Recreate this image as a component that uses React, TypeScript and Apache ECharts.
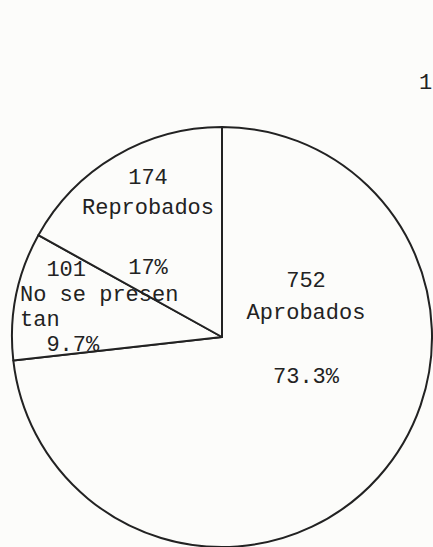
import React, { useEffect, useRef } from "react";
import * as echarts from "echarts";

// ---- data ----
const categories = ["Aprobados", "No se presentan", "Reprobados"];
const counts = [752, 101, 174];
const percentLabels = ["73.3%", "9.7%", "17%"];
// how each category name is typed on the sheet
const typedNames = ["Aprobados", "No se presen\ntan", "Reprobados"];

// ---- layout / style (not data) ----
const FONT = "'Liberation Mono', 'Courier New', monospace";
const INK = "#222222";
const PAPER = "#fcfcfa";
const LABEL_ANCHORS = [
  { x: 306, y: 265, align: "center", lineHeight: 32 },
  { x: 20, y: 258, align: "left", lineHeight: 25 },
  { x: 148, y: 163, align: "center", lineHeight: 30 },
];

function buildLabel(i: number): string {
  if (i === 1) {
    return `  ${counts[i]}\n${typedNames[i]}\n  ${percentLabels[i]}`;
  }
  return `${counts[i]}\n${typedNames[i]}\n\n${percentLabels[i]}`;
}

export default function App() {
  const ref = useRef<HTMLDivElement>(null);

  useEffect(() => {
    if (!ref.current) return;
    const chart = echarts.init(ref.current, undefined, { renderer: "svg" });
    chart.setOption({
      animation: false,
      backgroundColor: PAPER,
      graphic: [
        {
          type: "text",
          x: 419,
          y: 72,
          style: { text: "1", font: `22px ${FONT}`, fill: INK },
        },
      ],
      series: [
        {
          type: "pie",
          center: [222, 337],
          radius: 210,
          startAngle: 90,
          clockwise: true,
          silent: true,
          itemStyle: {
            color: PAPER,
            borderColor: INK,
            borderWidth: 2,
          },
          emphasis: { disabled: true },
          labelLine: { show: false },
          label: {
            show: true,
            position: "inside",
            fontFamily: FONT,
            fontSize: 22,
            color: INK,
          },
          labelLayout: (params: any) => {
            const a = LABEL_ANCHORS[params.dataIndex];
            return { x: a.x, y: a.y, align: a.align, verticalAlign: "top" };
          },
          data: categories.map((name, i) => ({
            name,
            value: counts[i],
            label: {
              formatter: buildLabel(i),
              lineHeight: LABEL_ANCHORS[i].lineHeight,
              align: LABEL_ANCHORS[i].align,
            },
          })),
        },
      ],
    });
    return () => chart.dispose();
  }, []);

  return (
    <div
      ref={ref}
      style={{ position: "absolute", left: 0, top: 0, width: 433, height: 547 }}
    />
  );
}
